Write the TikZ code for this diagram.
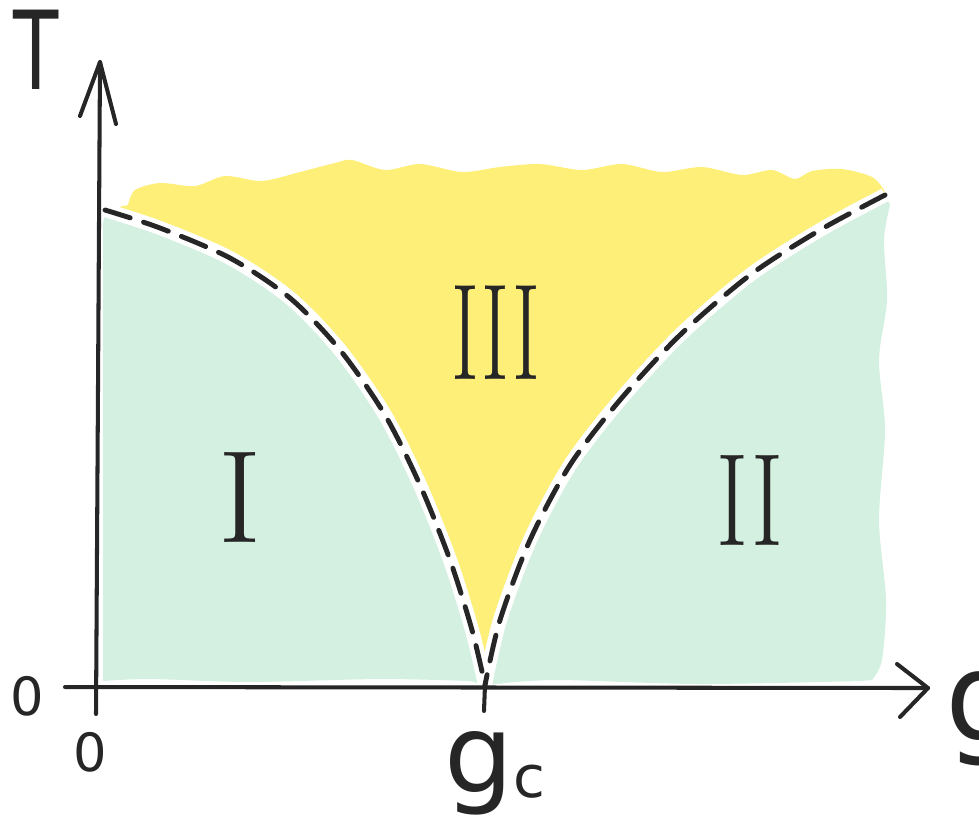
\documentclass[tikz,border=0pt]{standalone}
\usepackage{fontspec}
\usepackage{graphicx}
\newfontfamily\hand{DejaVu Sans}
\newfontfamily\numfont{Latin Modern Roman}
\definecolor{mint}{HTML}{D4F0E0}
\definecolor{lemon}{HTML}{FDEF78}
\tikzset{
  axisline/.style={line width=2.3pt, black!85, line cap=round},
  gap/.style={line width=8pt, white},
  phaseline/.style={line width=2.8pt, black!85, dash pattern=on 15pt off 8pt, line cap=round},
  lab/.style={inner sep=0pt, text=black!85},
}
\begin{document}
\begin{tikzpicture}[x=0.02cm,y=-0.02cm, line join=round]
\useasboundingbox (0,0) rectangle (979,826);
% yellow region III
\fill[lemon] plot[smooth] coordinates {(128,205) (135,190) (160,183) (195,186) (225,176) (262,181) (300,172) (335,163) (352,160) (385,170) (420,164) (462,172) (500,167) (540,164) (582,170) (622,164) (662,172) (702,167) (742,175) (772,170) (795,179) (812,171) (842,169) (872,177) (884,190)}
  -- plot[smooth] coordinates {(885,195) (820,230) (750,275) (680,335) (620,400) (570,465) (530,540) (500,620) (485,685)}
  -- plot[smooth] coordinates {(485,685) (472,630) (450,560) (420,485) (385,415) (340,350) (290,298) (230,258) (160,228) (105,210)}
  -- cycle;
% green region I
\fill[mint] (103,224) -- plot[smooth] coordinates {(105,210) (160,228) (230,258) (290,298) (340,350) (385,415) (420,485) (450,560) (472,630) (485,685)}
  -- plot[smooth] coordinates {(470,681) (380,679) (250,682) (150,679) (103,681)} -- cycle;
% green region II
\fill[mint] plot[smooth] coordinates {(485,685) (500,620) (530,540) (570,465) (620,400) (680,335) (750,275) (820,230) (885,195)}
  -- plot[smooth] coordinates {(890,205) (884,240) (887,300) (879,360) (885,430) (879,520) (886,600) (882,660) (872,680)}
  -- plot[smooth] coordinates {(860,681) (700,684) (560,680) (505,683)} -- cycle;
% phase boundaries
\coordinate (L0) at (105,210);
\coordinate (gc) at (485,685);
\coordinate (R0) at (885,195);
\draw[gap] plot[smooth] coordinates {(105,210) (160,228) (230,258) (290,298) (340,350) (385,415) (420,485) (450,560) (472,630) (485,685)};
\draw[gap] plot[smooth] coordinates {(485,685) (500,620) (530,540) (570,465) (620,400) (680,335) (750,275) (820,230) (885,195)};
\draw[phaseline] plot[smooth] coordinates {(105,210) (160,228) (230,258) (290,298) (340,350) (385,415) (420,485) (450,560) (472,630) (485,685)};
\draw[phaseline] plot[smooth] coordinates {(885,195) (820,230) (750,275) (680,335) (620,400) (570,465) (530,540) (500,620) (485,685)};
% axes
\coordinate (O) at (97,688);
\coordinate (ybot) at (96,714);
\coordinate (ytip) at (100,62);
\coordinate (yl) at (80,116);
\coordinate (yr) at (116,124);
\coordinate (xleft) at (65,687);
\coordinate (xtip) at (928,688);
\coordinate (xu) at (897,664);
\coordinate (xd) at (900,717);
\coordinate (gcb) at (484,711);
\draw[axisline] (ybot) -- (ytip);
\draw[axisline] (yl) -- (ytip) -- (yr);
\draw[axisline] (xleft) -- (xtip);
\draw[axisline] (xu) -- (xtip) -- (xd);
\draw[axisline] (gc) -- (gcb);
% labels
\node[lab, font=\hand\fontsize{62}{62}\selectfont] (T) at (36,50) {\scalebox{0.68}[1]{T}};
\node[lab, font=\hand\fontsize{30}{30}\selectfont] (zl) at (27,696) {0};
\node[lab, font=\hand\fontsize{30}{30}\selectfont] (zb) at (90,752) {0};
\node[lab, anchor=base west, font=\hand\fontsize{62}{62}\selectfont] (gcg) at (444,792) {g};
\node[lab, anchor=base west, font=\hand\fontsize{33}{33}\selectfont] (gcc) at (513,797) {c};
\node[lab, anchor=base west, font=\hand\fontsize{70}{70}\selectfont] (g) at (945,740) {g};
\node[lab, font=\numfont\fontsize{75}{75}\selectfont] (r1) at (240,497) {I};
\node[lab, font=\numfont\fontsize{75}{75}\selectfont] (r2) at (750,500) {\scalebox{0.74}[1]{II}};
\node[lab, font=\numfont\fontsize{78}{78}\selectfont] (r3) at (496,333) {\scalebox{0.62}[1]{III}};
\end{tikzpicture}
\end{document}
